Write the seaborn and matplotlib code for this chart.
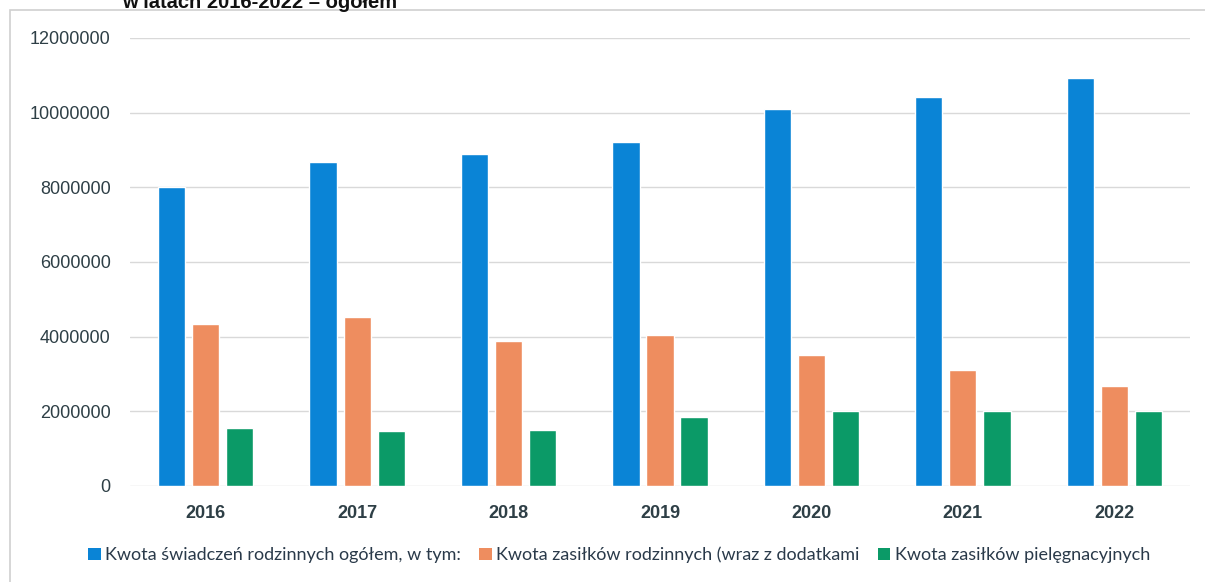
import pandas as pd
import numpy as np
import matplotlib.pyplot as plt
import seaborn as sns
from matplotlib.patches import Patch, Rectangle

years = ['2016', '2017', '2018', '2019', '2020', '2021', '2022']
series_names = ['Kwota świadczeń rodzinnych ogółem, w tym:',
                'Kwota zasiłków rodzinnych (wraz z dodatkami',
                'Kwota zasiłków pielęgnacyjnych']
ogolem = [8020000, 8690000, 8900000, 9210000, 10100000, 10420000, 10930000]
rodzinne = [4350000, 4520000, 3890000, 4050000, 3500000, 3100000, 2670000]
pielegnacyjne = [1550000, 1480000, 1510000, 1840000, 2010000, 2010000, 2010000]
colors = ['#0a84d6', '#ee8d5f', '#0b9a67']

df = pd.DataFrame({
    'Rok': years * 3,
    'Seria': np.repeat(series_names, len(years)),
    'Kwota': ogolem + rodzinne + pielegnacyjne,
})

sns.set_style("white")
plt.rcParams['font.family'] = ['Liberation Sans', 'DejaVu Sans']

fig = plt.figure(figsize=(12.05, 5.82), dpi=100)
ax = fig.add_axes([130 / 1205, 1 - 486 / 582, 1060 / 1205, 448 / 582])

sns.barplot(data=df, x='Rok', y='Kwota', hue='Seria', palette=colors,
            width=0.675, gap=0.2, saturation=1, ax=ax, legend=False)

ax.set_ylim(0, 12000000)
ax.set_xlim(-0.5, 6.5)
ax.set_yticks(np.arange(0, 12000001, 2000000))
ax.yaxis.set_major_formatter(plt.FuncFormatter(lambda v, p: f'{int(v)}'))
ax.grid(axis='y', color='#d9d9d9', linewidth=1)
ax.set_axisbelow(True)
for s in ax.spines.values():
    s.set_visible(False)
ax.tick_params(axis='both', length=0)
ax.tick_params(axis='y', pad=14, labelsize=13, labelcolor='#2e3f46')
ax.tick_params(axis='x', pad=14, labelsize=13, labelcolor='#2e3f46')
for lbl in ax.get_xticklabels():
    lbl.set_fontweight('bold')
ax.set_xlabel('')
ax.set_ylabel('')

# outer frame of the chart area
fig.patches.append(Rectangle((10 / 1205, -0.1), 1.2, 1 - 10 / 582 + 0.1,
                             transform=fig.transFigure, fill=False,
                             edgecolor='#d0d0d0', linewidth=1.2))

# title cut off at the top, as in the scanned original
fig.text(260 / 1205, 1 - 8 / 582, 'w latach 2016-2022 – ogółem',
         ha='center', va='baseline', fontsize=14.5, fontweight='bold', color='#111111')

handles = [Patch(facecolor=c, edgecolor='none') for c in colors]
leg = fig.legend(handles, series_names, loc='center', ncol=3,
                 bbox_to_anchor=(619 / 1205, 1 - 555 / 582), frameon=False,
                 handlelength=0.7, handleheight=0.7, handletextpad=0.25,
                 columnspacing=1.0, borderaxespad=0, borderpad=0,
                 prop={'family': ['Lato', 'DejaVu Sans'], 'size': 13})
for t in leg.get_texts():
    t.set_color('#2a3a4a')

plt.savefig('out.png', dpi=100)
